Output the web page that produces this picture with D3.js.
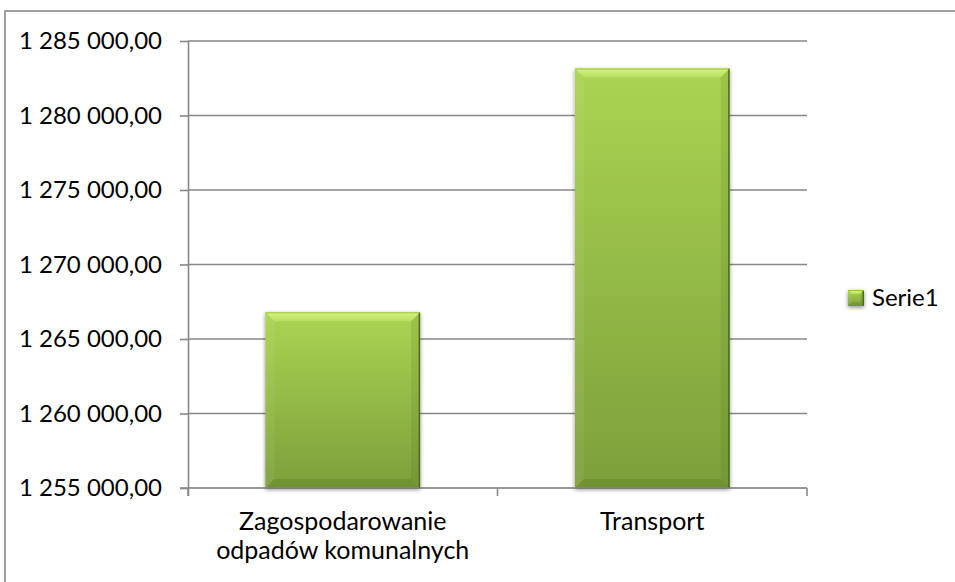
<!DOCTYPE html>
<html>
<head>
<meta charset="utf-8">
<script src="https://cdn.jsdelivr.net/npm/d3@7"></script>
<style>
  html, body { margin: 0; padding: 0; background: #fff; }
  svg { display: block; font-family: Lato, "Open Sans", sans-serif; }
</style>
</head>
<body>
<svg id="chart" width="955" height="582"></svg>
<script>
const categories = [['Zagospodarowanie', 'odpadów komunalnych'], ['Transport']];
const values = [1266790, 1283150];
const yTicks = [1255000, 1260000, 1265000, 1270000, 1275000, 1280000, 1285000];
const seriesName = 'Serie1';

const svg = d3.select('#chart');
const plot = { left: 188, right: 807, top: 41, bottom: 488 };
const axis_color = '#888888';
const bevel = 9;

const pl = d3.formatLocale({ decimal: ',', thousands: '\u00a0', grouping: [3], currency: ['', ''] });
const fmt = pl.format(',.2f');

const ids = categories.map((c, i) => i);
const x_cat = d3.scaleBand(ids, [plot.left, plot.right]);
const x = d3.scaleBand(ids, [plot.left, plot.right]).paddingInner(0.5).paddingOuter(0.25);
const y = d3.scaleLinear([yTicks[0], yTicks[yTicks.length - 1]], [plot.bottom, plot.top]);

// defs: gradients, shadow
const defs = svg.append('defs');
const face = defs.append('linearGradient').attr('id', 'face')
  .attr('x1', 0).attr('y1', 0).attr('x2', 0).attr('y2', 1);
face.append('stop').attr('offset', '0%').attr('stop-color', '#abd452');
face.append('stop').attr('offset', '100%').attr('stop-color', '#7d9f3b');
const topBevel = defs.append('linearGradient').attr('id', 'topBevel')
  .attr('x1', 0).attr('y1', 0).attr('x2', 0).attr('y2', 1);
topBevel.append('stop').attr('offset', '0%').attr('stop-color', '#d6f384');
topBevel.append('stop').attr('offset', '100%').attr('stop-color', '#b7de60');
const shadow = defs.append('filter').attr('id', 'shadow')
  .attr('x', '-20%').attr('y', '-20%').attr('width', '140%').attr('height', '140%');
shadow.append('feDropShadow').attr('dx', 0).attr('dy', 1.5).attr('stdDeviation', 2.2)
  .attr('flood-color', '#000').attr('flood-opacity', 0.45);

// outer frame
svg.append('rect')
  .attr('x', 5).attr('y', 11).attr('width', 1000).attr('height', 700)
  .attr('fill', 'none').attr('stroke', axis_color).attr('stroke-width', 1.6);

// gridlines
svg.append('g')
  .selectAll('line')
  .data(yTicks.slice(1))
  .join('line')
  .attr('x1', plot.left).attr('x2', plot.right)
  .attr('y1', (d) => y(d)).attr('y2', (d) => y(d))
  .attr('stroke', axis_color).attr('stroke-width', 1.6);

// y axis
const yAxis = svg.append('g')
  .attr('transform', `translate(${plot.left},0)`)
  .call(d3.axisLeft(y).tickValues(yTicks).tickSize(8).tickPadding(18).tickFormat(fmt));
yAxis.select('.domain').attr('stroke', axis_color).attr('stroke-width', 1.6)
  .attr('d', `M0.5,${plot.top}V${plot.bottom + 8}`);
yAxis.selectAll('.tick line').attr('stroke', axis_color).attr('stroke-width', 1.6);
yAxis.selectAll('.tick text')
  .attr('fill', '#000').style('font-size', '24px').style('font-family', 'Lato, sans-serif');

// x axis
const xAxis = svg.append('g');
xAxis.append('line')
  .attr('x1', plot.left - 8).attr('x2', plot.right)
  .attr('y1', plot.bottom).attr('y2', plot.bottom)
  .attr('stroke', axis_color).attr('stroke-width', 1.6);
xAxis.selectAll('.xtick')
  .data([...ids.map((i) => x_cat(i)), plot.right])
  .join('line')
  .attr('class', 'xtick')
  .attr('x1', (d) => d).attr('x2', (d) => d)
  .attr('y1', plot.bottom).attr('y2', plot.bottom + 8)
  .attr('stroke', axis_color).attr('stroke-width', 1.6);

xAxis.selectAll('text')
  .data(ids)
  .join('text')
  .attr('x', (i) => x_cat(i) + x_cat.bandwidth() / 2)
  .attr('y', 530)
  .attr('text-anchor', 'middle')
  .style('font-size', '25px')
  .attr('fill', '#000')
  .selectAll('tspan')
  .data((i) => categories[i].map((line, k) => ({ line, k, i })))
  .join('tspan')
  .attr('x', (d) => x_cat(d.i) + x_cat.bandwidth() / 2)
  .attr('dy', (d) => (d.k === 0 ? 0 : 29))
  .text((d) => d.line);

// bars with bevel
function drawBevelBox(g, x0, y0, w, h, b) {
  const x1 = x0 + w, y1 = y0 + h;
  g.append('rect').attr('x', x0).attr('y', y0).attr('width', w).attr('height', h)
    .attr('fill', 'url(#face)').attr('filter', 'url(#shadow)');
  g.append('path')
    .attr('d', `M${x0},${y0}L${x1},${y0}L${x1 - b},${y0 + b}L${x0 + b},${y0 + b}Z`)
    .attr('fill', 'url(#topBevel)');
  g.append('path')
    .attr('d', `M${x0},${y0}L${x0 + b},${y0 + b}L${x0 + b},${y1 - b}L${x0},${y1}Z`)
    .attr('fill', '#ffffff').attr('opacity', 0.06);
  g.append('path')
    .attr('d', `M${x1},${y0}L${x1 - b},${y0 + b}L${x1 - b},${y1 - b}L${x1},${y1}Z`)
    .attr('fill', '#3d5a12').attr('opacity', 0.12);
  g.append('path')
    .attr('d', `M${x0},${y1}L${x0 + b},${y1 - b}L${x1 - b},${y1 - b}L${x1},${y1}Z`)
    .attr('fill', '#3d5a12').attr('opacity', 0.18);
  g.append('line').attr('x1', x1 - 0.75).attr('x2', x1 - 0.75).attr('y1', y0).attr('y2', y1)
    .attr('stroke', '#4d6a1f').attr('stroke-width', 1.5);
  g.append('line').attr('x1', x0).attr('x2', x1).attr('y1', y0 + 0.5).attr('y2', y0 + 0.5)
    .attr('stroke', '#9cc243').attr('stroke-width', 1);
}

const bars = svg.append('g');
ids.forEach((i) => {
  const g = bars.append('g');
  drawBevelBox(g, x(i), y(values[i]), x.bandwidth(), plot.bottom - y(values[i]), bevel);
});

// redraw the axis line on top of the bars' bottom
svg.append('line')
  .attr('x1', plot.left).attr('x2', plot.right)
  .attr('y1', plot.bottom).attr('y2', plot.bottom)
  .attr('stroke', axis_color).attr('stroke-width', 1.6).attr('opacity', 0.6);

// legend
const legend = svg.append('g').attr('transform', 'translate(848,290)');
drawBevelBox(legend, 0, 0, 16, 16, 4);
legend.append('text')
  .attr('x', 24).attr('y', 8).attr('dy', '0.35em')
  .style('font-size', '24px').attr('fill', '#000')
  .text(seriesName);
</script>
</body>
</html>
